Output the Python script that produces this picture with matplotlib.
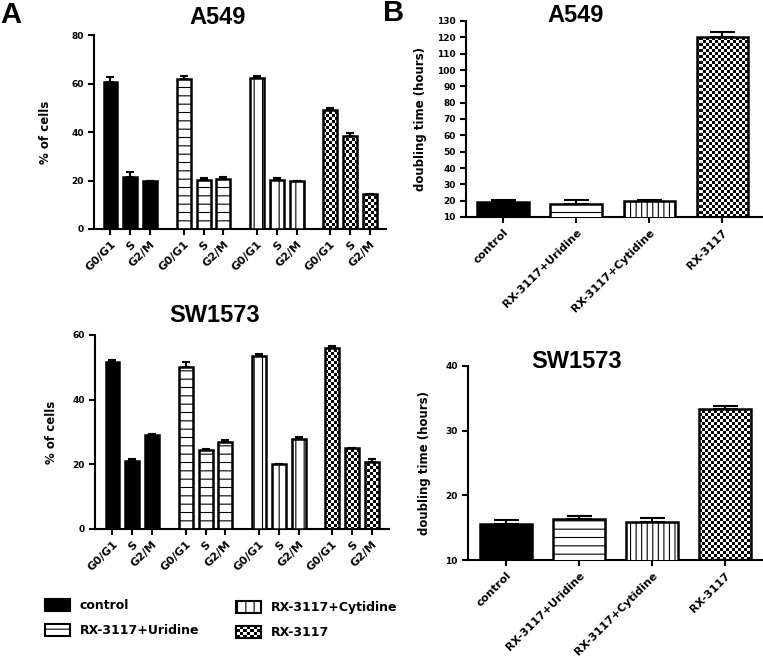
import numpy as np
import matplotlib
matplotlib.use("Agg")
import matplotlib.pyplot as plt
from matplotlib.patches import Rectangle
from matplotlib.legend_handler import HandlerBase

# ---- data ----
phases = ["G0/G1", "S", "G2/M"]
treatments = ["control", "RX-3117+Uridine", "RX-3117+Cytidine", "RX-3117"]

# % of cells per phase, one row per treatment
a549_cycle_mean = [[60.8, 21.3, 19.9], [62.0, 20.2, 20.6], [62.1, 20.3, 19.6], [49.1, 38.5, 14.4]]
a549_cycle_err = [[1.7, 2.4, 0.1], [0.9, 0.7, 0.7], [1.1, 0.7, 0.3], [1.0, 0.9, 0.2]]
sw1573_cycle_mean = [[51.8, 21.1, 29.0], [50.2, 24.3, 26.8], [53.4, 20.0, 27.7], [56.0, 25.0, 20.8]]
sw1573_cycle_err = [[0.6, 0.4, 0.4], [1.5, 0.5, 0.6], [0.7, 0.1, 0.7], [0.6, 0.1, 0.8]]

# doubling time (hours)
a549_dt_mean = [19.4, 18.2, 20.0, 120.2]
a549_dt_err = [0.8, 2.0, 0.6, 3.3]
sw1573_dt_mean = [15.6, 16.3, 15.9, 33.3]
sw1573_dt_err = [0.6, 0.5, 0.6, 0.5]

plt.rcParams["font.family"] = ["DejaVu Sans"]
plt.rcParams["hatch.linewidth"] = 0.8

W, H = 763, 667
fig = plt.figure(figsize=(W / 100, H / 100), dpi=100)

group_step = 3.69
bar_lw = 1.8
cell_px = 3

styles = {
    "control": dict(facecolor="black", hatch=None),
    "RX-3117+Uridine": dict(facecolor="white", hatch="--"),
    "RX-3117+Cytidine": dict(facecolor="white", hatch="||"),
    "RX-3117": dict(facecolor="none", hatch=None),
}


def px_axes(left, right, top, bottom):
    return fig.add_axes([left / W, 1 - bottom / H, (right - left) / W, (bottom - top) / H])


def checker_fill(ax, bar):
    # checker texture laid out on whole display pixels, clipped to the bar
    bb = bar.get_window_extent()
    ax_bb = ax.get_window_extent()
    px0 = np.floor(bb.x0)
    py0 = np.floor(max(bb.y0, ax_bb.y0))
    nx = int(np.ceil((bb.x1 - px0) / cell_px))
    ny = int(np.ceil((bb.y1 - py0) / cell_px))
    arr = np.add.outer(np.arange(ny), np.arange(nx)) % 2
    inv = ax.transData.inverted()
    (dx0, dy0), (dx1, dy1) = inv.transform([(px0, py0), (px0 + nx * cell_px, py0 + ny * cell_px)])
    im = ax.imshow(arr, extent=(dx0, dx1, dy0, dy1), cmap="gray", interpolation="nearest",
                   origin="lower", aspect="auto", zorder=2.5)
    im.set_clip_path(bar)


def style_axes(ax):
    for s in ["top", "right"]:
        ax.spines[s].set_visible(False)
    for s in ["left", "bottom"]:
        ax.spines[s].set_linewidth(1.5)
    ax.tick_params(axis="both", direction="out", length=4, width=1.5)
    for lab in ax.get_yticklabels():
        lab.set_fontsize(6.5)
        lab.set_fontweight("bold")


def draw_bar(ax, x, h, name, width, hatch=None):
    st = styles[name]
    bars = ax.bar(x, h, width=width, facecolor=st["facecolor"], edgecolor="black",
                  hatch=hatch or st["hatch"], linewidth=bar_lw, zorder=3)
    return bars


def cycle_panel(ax, means, errs, xlim, ymax, yticks):
    ax.set_xlim(*xlim)
    ax.set_ylim(0, ymax)
    xs_all = []
    for g, name in enumerate(treatments):
        xs = g * group_step + np.arange(len(phases))
        xs_all.extend(xs)
        bars = draw_bar(ax, xs, means[g], name, 0.7)
        ax.errorbar(xs, means[g], yerr=[np.zeros(len(phases)), errs[g]], fmt="none",
                    ecolor="black", elinewidth=1.5, capsize=3, capthick=1.5, zorder=2)
        if name == "RX-3117":
            for b in bars:
                checker_fill(ax, b)
    ax.set_xlim(*xlim)
    ax.set_ylim(0, ymax)
    ax.set_yticks(yticks)
    ax.set_xticks(xs_all)
    ax.set_xticklabels(phases * len(treatments), rotation=45, ha="right",
                       rotation_mode="anchor", fontsize=8, fontweight="bold")
    ax.set_ylabel("% of cells", fontsize=8.5, fontweight="bold")
    style_axes(ax)


def dt_panel(ax, means, errs, xlim, ylim, yticks):
    ax.set_xlim(*xlim)
    ax.set_ylim(*ylim)
    xs = np.arange(len(treatments))
    for i, name in enumerate(treatments):
        hatch = "|||" if name == "RX-3117+Cytidine" else None
        bars = draw_bar(ax, [xs[i]], [means[i]], name, 0.7, hatch)
        ax.errorbar([xs[i]], [means[i]], yerr=[[0], [errs[i]]], fmt="none",
                    ecolor="black", elinewidth=1.5, capsize=9, capthick=1.5, zorder=2)
        if name == "RX-3117":
            checker_fill(ax, bars[0])
    ax.set_xlim(*xlim)
    ax.set_ylim(*ylim)
    ax.set_yticks(yticks)
    ax.set_xticks(xs)
    ax.set_xticklabels(treatments, rotation=45, ha="right", rotation_mode="anchor",
                       fontsize=8, fontweight="bold")
    ax.set_ylabel("doubling time (hours)", fontsize=8.5, fontweight="bold")
    style_axes(ax)


# ---- panel A ----
ax1 = px_axes(94, 386, 35, 229)
cycle_panel(ax1, a549_cycle_mean, a549_cycle_err, (-0.83, 13.88), 80, [0, 20, 40, 60, 80])
ax1.yaxis.set_label_coords(-0.145, 0.5)

ax2 = px_axes(95, 389, 335, 529)
cycle_panel(ax2, sw1573_cycle_mean, sw1573_cycle_err, (-0.88, 13.93), 60, [0, 20, 40, 60])
ax2.yaxis.set_label_coords(-0.125, 0.5)

# ---- panel B ----
ax3 = px_axes(466, 763, 21, 217)
dt_panel(ax3, a549_dt_mean, a549_dt_err, (-0.507, 3.56), (10, 130), np.arange(10, 131, 10))
ax3.yaxis.set_label_coords(-0.13, 0.5)

ax4 = px_axes(468, 763, 366, 560)
dt_panel(ax4, sw1573_dt_mean, sw1573_dt_err, (-0.52, 3.52), (10, 40), [10, 20, 30, 40])
ax4.yaxis.set_label_coords(-0.125, 0.5)

# titles and panel letters
title_kw = dict(family="Liberation Sans", fontweight="bold", fontsize=17, ha="center", va="center")
fig.text(218 / W, 1 - 17 / H, "A549", **title_kw)
fig.text(215 / W, 1 - 316 / H, "SW1573", **title_kw)
fig.text(576 / W, 1 - 16 / H, "A549", **title_kw)
fig.text(577 / W, 1 - 362 / H, "SW1573", **title_kw)
fig.text(0 / W, 1 - 15 / H, "A", family="Liberation Sans", fontweight="bold", fontsize=21,
         ha="left", va="center")
fig.text(383 / W, 1 - 13 / H, "B", family="Liberation Sans", fontweight="bold", fontsize=21,
         ha="left", va="center")


# ---- legend ----
class CheckerHandler(HandlerBase):
    def create_artists(self, legend, orig_handle, xdescent, ydescent, width, height,
                       fontsize, trans):
        x0, y0 = -xdescent, -ydescent
        arts = [Rectangle((x0, y0), width, height, facecolor="white", edgecolor="none",
                          transform=trans)]
        nx, ny = 7, 4
        cw, ch = width / nx, height / ny
        for i in range(nx):
            for j in range(ny):
                if (i + j) % 2 == 0:
                    arts.append(Rectangle((x0 + i * cw, y0 + j * ch), cw, ch,
                                          facecolor="black", edgecolor="none", transform=trans))
        arts.append(Rectangle((x0, y0), width, height, facecolor="none", edgecolor="black",
                              linewidth=1.5, transform=trans))
        return arts


handles = []
for name in treatments:
    st = styles[name]
    handles.append(Rectangle((0, 0), 1, 1, facecolor=st["facecolor"] if name != "RX-3117" else "white",
                             edgecolor="black", hatch=st["hatch"], linewidth=1.5))

leg_kw = dict(loc="upper left", frameon=False, prop=dict(weight="bold", size=9),
              handlelength=2.0, handleheight=1.1, handletextpad=0.8, labelspacing=0.95,
              borderpad=0, borderaxespad=0)
fig.legend(handles[:2], treatments[:2], bbox_to_anchor=(45 / W, 1 - 599 / H), **leg_kw)
fig.legend(handles[2:], treatments[2:], bbox_to_anchor=(236 / W, 1 - 601 / H),
           handler_map={handles[3]: CheckerHandler()}, **leg_kw)

fig.savefig("out.png", dpi=100)
